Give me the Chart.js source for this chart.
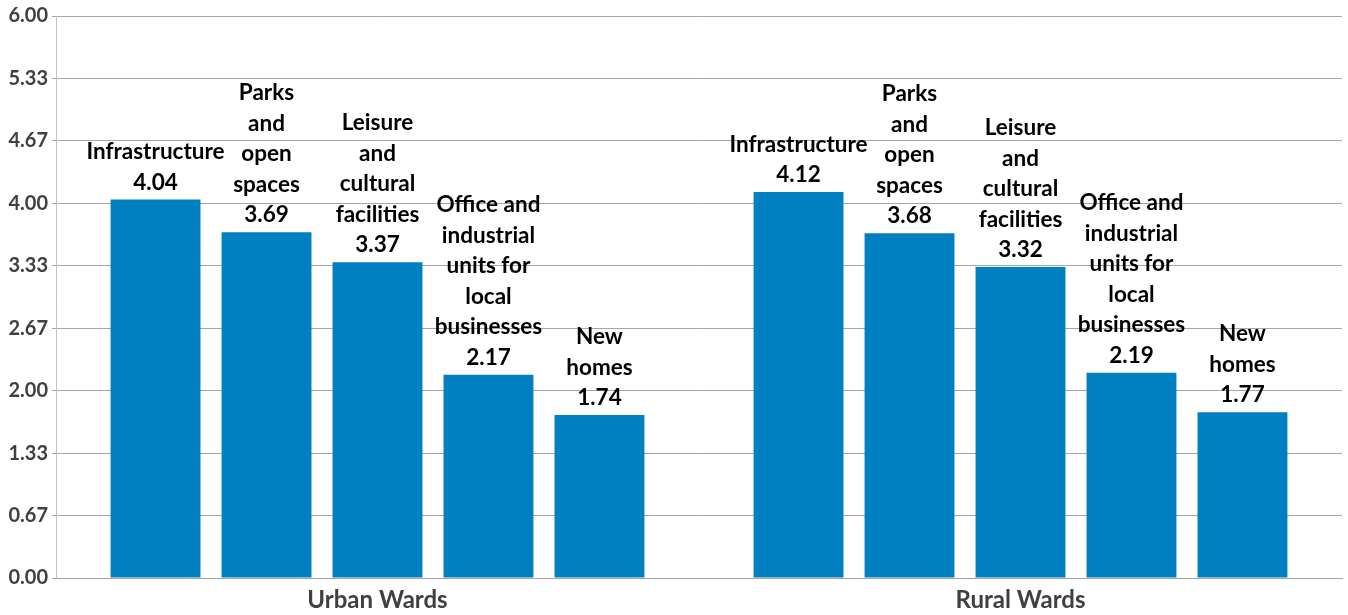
<!DOCTYPE html>
<html>
<head>
<meta charset="utf-8">
<script src="https://cdn.jsdelivr.net/npm/chart.js@4.4.0/dist/chart.umd.min.js"></script>
<style>
  html, body { margin: 0; padding: 0; background: #fff; }
  #wrap { width: 1348px; height: 615px; }
</style>
</head>
<body>
<div id="wrap"><canvas id="chart" width="1348" height="615"></canvas></div>
<script>
// groups along the x axis
const wards = ['Urban Wards', 'Rural Wards'];

// one series per priority, label lines as shown above each bar
const seriesNames = [
  ['Infrastructure'],
  ['Parks', 'and', 'open', 'spaces'],
  ['Leisure', 'and', 'cultural', 'facilities'],
  ['Office and', 'industrial', 'units for', 'local', 'businesses'],
  ['New', 'homes']
];

// [urban, rural]
const infrastructure = [4.04, 4.12];
const parks = [3.69, 3.68];
const leisure = [3.37, 3.32];
const offices = [2.17, 2.19];
const newHomes = [1.74, 1.77];
const seriesValues = [infrastructure, parks, leisure, offices, newHomes];

const yTickLabels = ['0.00', '0.67', '1.33', '2.00', '2.67', '3.33', '4.00', '4.67', '5.33', '6.00'];
const yMax = 6;

const barColor = 'rgb(0,127,193)';
const gridColor = '#a6a6a6';
const axisText = '#404040';
const fontFamily = 'Lato, "Open Sans", sans-serif';

// draws the name + value stack above every bar
const barLabels = {
  id: 'barLabels',
  afterDatasetsDraw(chart) {
    const ctx = chart.ctx;
    ctx.save();
    ctx.font = 'bold 22.5px ' + fontFamily;
    ctx.fillStyle = '#000';
    ctx.textAlign = 'center';
    ctx.textBaseline = 'alphabetic';
    const lineH = 30.5;
    chart.data.datasets.forEach((ds, di) => {
      const meta = chart.getDatasetMeta(di);
      meta.data.forEach((bar, i) => {
        const lines = seriesNames[di].concat([ds.data[i].toFixed(2)]);
        let y = bar.y - 10;
        for (let k = lines.length - 1; k >= 0; k--) {
          ctx.fillText(lines[k], bar.x, y);
          y -= lineH;
        }
      });
    });
    ctx.restore();
  }
};

const datasets = seriesValues.map((vals, i) => ({
  label: seriesNames[i].join(' '),
  data: vals,
  backgroundColor: barColor,
  borderWidth: 0,
  categoryPercentage: 0.863,
  barPercentage: 0.81
}));

new Chart(document.getElementById('chart'), {
  type: 'bar',
  data: { labels: wards, datasets: datasets },
  plugins: [barLabels],
  options: {
    responsive: false,
    animation: false,
    layout: { padding: { top: 16, right: 6, left: 0, bottom: 0 } },
    plugins: {
      legend: { display: false },
      tooltip: { enabled: false }
    },
    scales: {
      x: {
        grid: { display: false },
        border: { display: true, color: gridColor },
        ticks: {
          color: axisText,
          padding: 0,
          font: { family: fontFamily, size: 24, weight: 'bold' }
        },
        afterFit(scale) { scale.height = 37; }
      },
      y: {
        min: 0,
        max: yMax,
        afterBuildTicks(scale) {
          scale.ticks = yTickLabels.map((t, i) => ({ value: i * yMax / (yTickLabels.length - 1) }));
        },
        grid: { color: gridColor, tickLength: 4, lineWidth: 1 },
        border: { display: true, color: '#c0c0c0' },
        ticks: {
          color: axisText,
          padding: 4,
          font: { family: fontFamily, size: 20, weight: 'bold' },
          callback: (v, idx) => yTickLabels[idx]
        },
        afterFit(scale) { scale.width = 56; }
      }
    }
  }
});
</script>
</body>
</html>
